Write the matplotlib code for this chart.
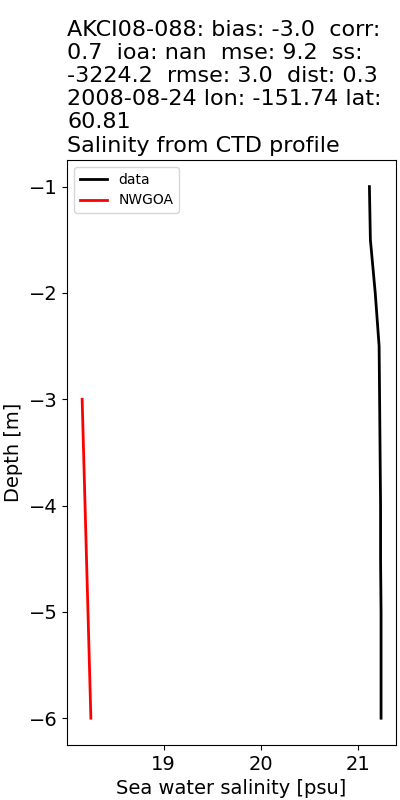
import numpy as np
import matplotlib
matplotlib.use("Agg")
import matplotlib.pyplot as plt

# observed CTD profile
depth_data = np.array([-1.0, -1.5, -2.0, -2.5, -3.0, -3.5, -4.0, -4.5, -5.0, -5.5, -6.0])
sal_data = np.array([21.12, 21.13, 21.18, 21.22, 21.225, 21.23, 21.235, 21.235, 21.24, 21.24, 21.24])

# model
depth_model = np.array([-3.0, -6.0])
sal_model = np.array([18.16, 18.25])

title = ("AKCI08-088: bias: -3.0  corr:\n0.7  ioa: nan  mse: 9.2  ss:\n"
         "-3224.2  rmse: 3.0  dist: 0.3\n2008-08-24 lon: -151.74 lat:\n60.81\n"
         "Salinity from CTD profile")

fig = plt.figure(figsize=(4, 8), dpi=100)
ax = fig.add_axes([0.168, 0.069, 0.822, 0.731])
ax.plot(sal_data, depth_data, color="k", lw=2, label="data")
ax.plot(sal_model, depth_model, color="r", lw=2, label="NWGOA")
ax.set_xlabel("Sea water salinity [psu]", fontsize=14)
ax.set_ylabel("Depth [m]", fontsize=14)
ax.tick_params(labelsize=14)
ax.set_title(title, fontsize=16, loc="left")
ax.legend(loc="upper left")
fig.savefig("out.png")
